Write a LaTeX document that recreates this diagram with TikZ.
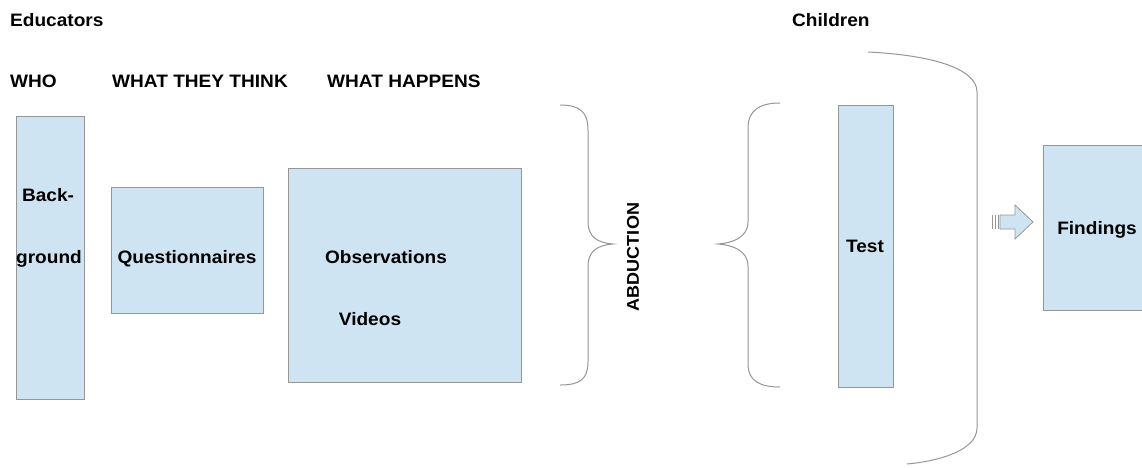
\documentclass[tikz,border=0pt]{standalone}
\usepackage{fontspec}
\setmainfont[FakeStretch=1.06]{Liberation Sans}

\definecolor{boxfill}{RGB}{207,228,243}
\definecolor{boxline}{RGB}{150,150,150}

\tikzset{
  box/.style={draw=boxline, fill=boxfill, line width=1pt, inner sep=0pt, anchor=north west},
  label/.style={font=\fontsize{18}{21}\selectfont\bfseries, inner sep=0pt, text depth=0pt},
  head/.style={label, anchor=west},
  bracket/.style={draw=boxline, line width=1pt},
}

\begin{document}
\begin{tikzpicture}[x=1pt, y=-1pt]
  \useasboundingbox (0,0) rectangle (1142,467);
  \clip (0,0) rectangle (1142,467);

  % column headings
  \node[head] (educators) at (10,20) {Educators};
  \node[head] (children) at (792,20) {Children};
  \node[head] (who) at (10,81) {WHO};
  \node[head] (think) at (112,81) {WHAT THEY THINK};
  \node[head] (happens) at (327,81) {WHAT HAPPENS};

  % educator side
  \node[box, minimum width=68, minimum height=283] (bg) at (16,116) {};
  \node[label] (back) at (48,195) {Back-};
  \node[label] (ground) at (49,257) {ground};

  \node[box, minimum width=152, minimum height=126] (quest) at (111,187) {};
  \node[label] (questtext) at (187,257) {Questionnaires};

  \node[box, minimum width=233, minimum height=214] (obs) at (288,168) {};
  \node[label] (obstext) at (386,257) {Observations};
  \node[label] (videos) at (370,319) {Videos};

  % braces round the abduction step
  \draw[bracket] (560,105) .. controls (580,105) and (588,112) .. (588,130)
    -- (588,222) .. controls (588,237) and (598,243) .. (613,244)
    .. controls (598,245) and (588,251) .. (588,266)
    -- (588,362) .. controls (588,379) and (580,385) .. (560,385);
  \node[label, font=\fontsize{17}{20}\selectfont\bfseries, rotate=90] (abduction) at (633,257) {ABDUCTION};
  \draw[bracket] (780,103) .. controls (760,103) and (748,110) .. (748,128)
    -- (748,222) .. controls (748,237) and (733,243) .. (718,244)
    .. controls (733,245) and (748,251) .. (748,266)
    -- (748,364) .. controls (748,381) and (760,387) .. (780,387);

  % children side
  \node[box, minimum width=55, minimum height=282] (test) at (838,105) {};
  \node[label] at (865,246) {Test};
  \draw[bracket] (868,52) .. controls (930,55) and (977,68) .. (977,92)
    -- (977,428) .. controls (977,450) and (940,461) .. (907,464);

  % outcome
  \draw[box, line width=0.8pt] (1000,215) -- (1015,215) -- (1015,205) -- (1033,222)
    -- (1015,239) -- (1015,229) -- (1000,229) -- cycle;
  \foreach \x in {991.5,994.5,997.5}
    \fill[boxline] (\x,215) rectangle ++(1.6,14);

  \node[box, minimum width=110, minimum height=165] (find) at (1043,145) {};
  \node[label] at (1097,228) {Findings};
\end{tikzpicture}
\end{document}
